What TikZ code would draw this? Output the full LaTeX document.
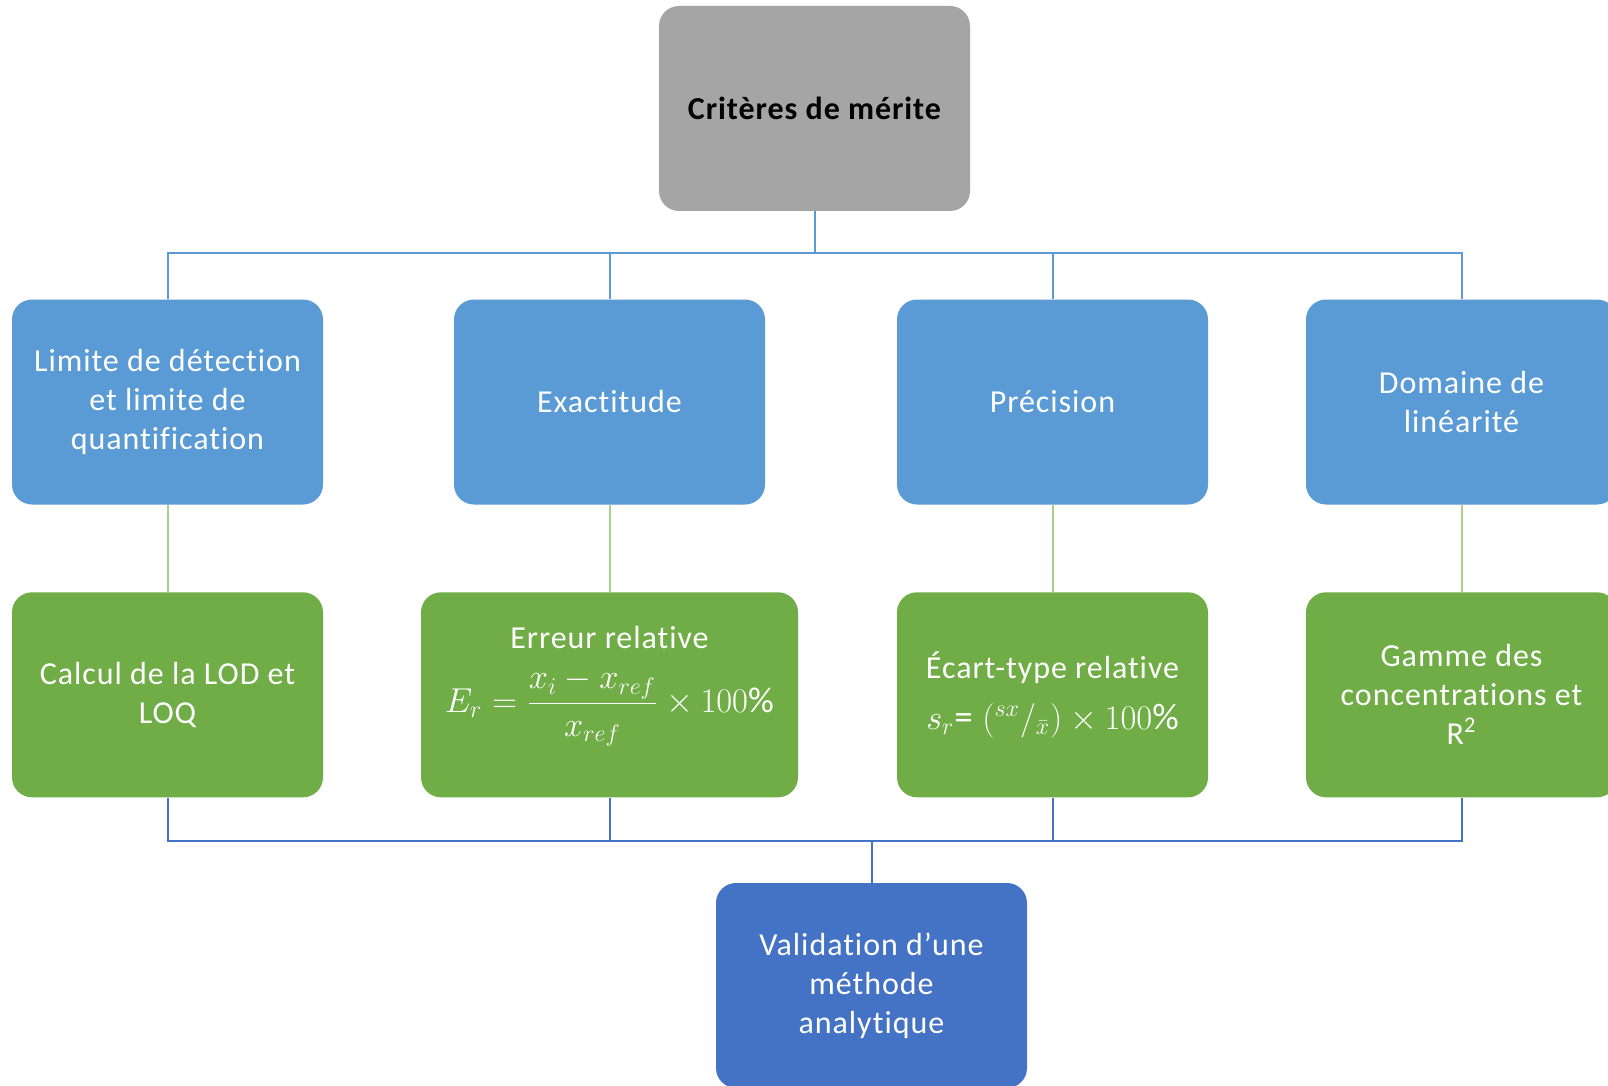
\documentclass[tikz,border=0pt]{standalone}
\usepackage{amsmath}
\usepackage{fontspec}
\setmainfont{Carlito}
\newfontfamily\boxfont[LetterSpace=3,Ligatures=NoCommon]{Carlito}
\usetikzlibrary{positioning}
\definecolor{critgray}{HTML}{A5A5A5}
\definecolor{catblue}{HTML}{5B9BD5}
\definecolor{calcgreen}{HTML}{70AD47}
\definecolor{validblue}{HTML}{4472C4}
\definecolor{midgreen}{HTML}{A9D18E}
\tikzset{
  box/.style = {rectangle, rounded corners=10pt, minimum width=155.5pt,
    minimum height=102.5pt, align=center, text=white,
    font=\boxfont\fontsize{16}{19.5}\selectfont},
  crit node/.style = {box, fill=critgray, text=black,
    font=\boxfont\bfseries\fontsize{16}{19.5}\selectfont},
  cat node/.style = {box, fill=catblue},
  calc node/.style = {box, fill=calcgreen},
  valid node/.style = {box, fill=validblue},
  top link/.style = {draw=catblue, line width=1pt},
  mid link/.style = {draw=midgreen, line width=1pt},
  bot link/.style = {draw=validblue, line width=1pt}
}

\begin{document}
\begin{tikzpicture}[x=0.5pt, y=-0.5pt]
\useasboundingbox (0,0) rectangle (1608,1086);
\fill[white] (0,0) rectangle (1608,1086);
\clip (0,0) rectangle (1608,1086);

\node[crit node] (crit) at (814.5,108.5) {Critères de mérite};

% categories
\node[cat node] (lod) at (167.5,402) {Limite de détection\\et limite de\\quantification};
\node[cat node] (exa) at (609.5,402) {Exactitude};
\node[cat node] (pre) at (1052.5,402) {Précision};
\node[cat node] (lin) at (1461.5,402) {Domaine de\\linéarité};

% calculations
\node[calc node, below=43.5pt of lod] (calc-lod) {Calcul de la LOD et\\LOQ};
\node[calc node, below=43.5pt of exa, minimum width=188.5pt] (calc-exa)
  {Erreur relative\\[9pt]
   {\fontsize{18}{20}\selectfont$E_r = \dfrac{x_i - x_{ref}}{x_{ref}} \times 100\%$}\\[6pt]};
\node[calc node, below=43.5pt of pre] (calc-pre)
  {Écart-type relative\\[6pt]
   {\fontsize{18.5}{20}\selectfont$s_r$= $({}^{sx}/{}_{\bar{x}}) \times 100\%$}};
\node[calc node, below=43.5pt of lin] (calc-lin) {Gamme des\\concentrations et\\R\textsuperscript{2}};

\node[valid node] (valid) at (871.5,985.5) {Validation d’une\\méthode\\analytique};

\coordinate (topbus) at (0,253);
\coordinate (botbus) at (0,841);

\foreach \n in {lod,exa,pre,lin} {
  \draw[top link] (crit.south) -- (crit.south |- topbus) -| (\n.north);
  \draw[mid link] (\n.south) -- (calc-\n.north);
  \draw[bot link] (calc-\n.south) -- (calc-\n.south |- botbus) -| (valid.north);
}
\end{tikzpicture}
\end{document}
